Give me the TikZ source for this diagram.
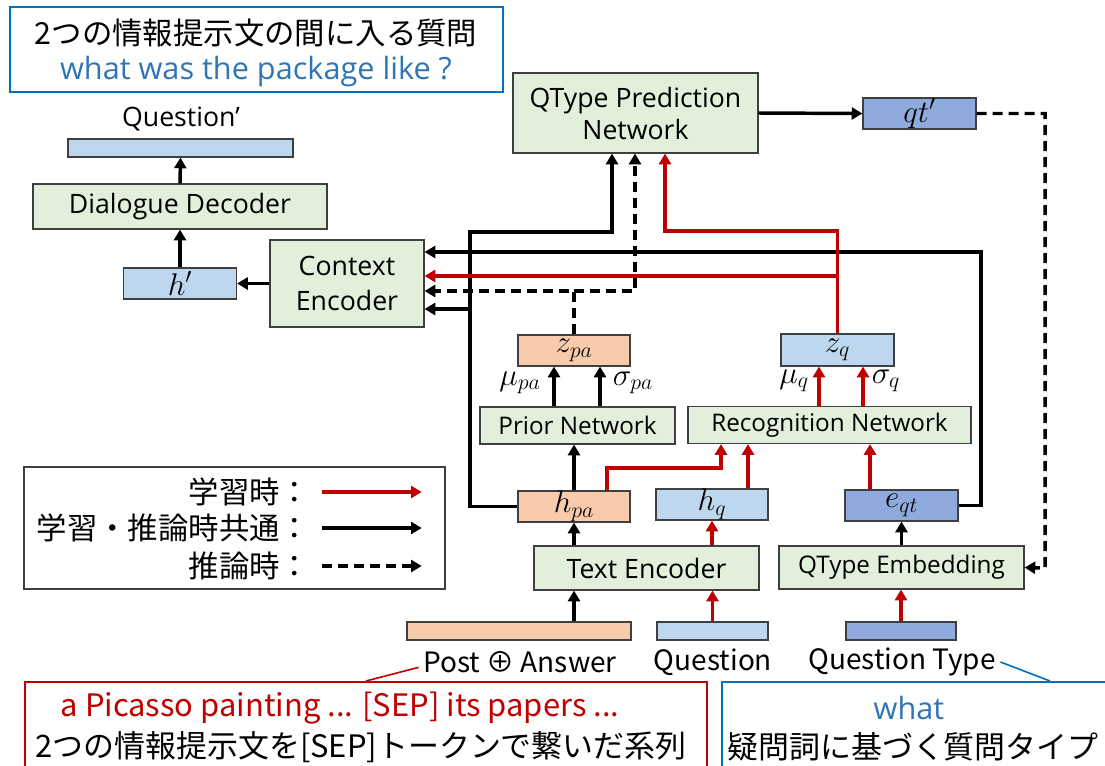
\documentclass[tikz,border=0pt]{standalone}
\usepackage{fix-cm}
\usepackage{fontspec}
\setmainfont{Open Sans}
\newfontfamily\jp{Noto Sans CJK JP}
\usetikzlibrary{arrows.meta}

\definecolor{netgreen}{HTML}{E2EFDA}
\definecolor{peach}{HTML}{F8CBAD}
\definecolor{lblue}{HTML}{BDD7EE}
\definecolor{mblue}{HTML}{8FAADC}
\definecolor{tred}{HTML}{C00000}
\definecolor{cblue}{HTML}{2E75B6}
\definecolor{cframe}{HTML}{0070C0}
\definecolor{edge}{HTML}{3F3F3F}

\newcommand{\bigfont}{\fontsize{20}{24}\selectfont}
\newcommand{\midfont}{\fontsize{18.2}{20}\selectfont}
\newcommand{\vecfont}{\fontsize{23.5}{24}\selectfont}
\newcommand{\jpfont}{\jp\fontsize{22.8}{29}\selectfont}
\newcommand{\lblfont}{\jp\fontsize{21}{24}\selectfont}

\begin{document}
\begin{tikzpicture}[x=0.75pt, y=-0.75pt,
  box/.style={draw=edge, line width=0.9pt, inner sep=0pt, align=center},
  net/.style={box, fill=netgreen},
  vec/.style={box, fill=#1, font=\vecfont},
  sz/.style 2 args={minimum width=#1*0.75pt, minimum height=#2*0.75pt},
  arr/.style={line width=2.6pt, -{Triangle[length=8pt,width=9pt]}},
  tarr/.style={arr, draw=tred},
  darr/.style={arr, dash pattern=on 7.5pt off 4.5pt},
  callout/.style={line width=1.5pt, inner sep=0pt}
]
\clip (0,0) rectangle (1105,765);

% Callout (top)
\node[callout, draw=cframe, sz={493}{85}] (topcall) at (256.5,49.5) {};
\node[font=\jpfont] (topjp) at (256,33) {2つの情報提示文の間に入る質問};
\node[font=\fontsize{23}{26}\selectfont, text=cblue] (topen) at (256,72) {what was the package like ?};

% Decoder side
\node[font=\bigfont] (qlbl) at (181,119) {Question’};
\node[vec=lblue, sz={225}{18}] (qout) at (180.5,148) {};
\node[net, sz={294}{45}, font=\bigfont] (decoder) at (180,206.5) {Dialogue Decoder};
\node[vec=lblue, sz={113}{31}] (hprime) at (180,283.5) {$h'$};
\node[net, sz={154}{87}, font=\bigfont] (ctxenc) at (347,283.5) {Context\\[2pt]Encoder};

% QType prediction
\node[net, sz={245}{80}, font=\bigfont] (qtpred) at (635.5,113) {QType Prediction\\Network};
\node[vec=mblue, sz={113}{31}] (qtp) at (919.5,113.5) {$qt'$};

% Latent variables
\node[vec=peach, sz={112}{31}] (zpa) at (574,350.5) {$z_{pa}$};
\node[vec=lblue, sz={113}{32}] (zq) at (837.5,350) {$z_q$};
\node[net, sz={195}{37}, font=\midfont] (prior) at (577.5,425.5) {Prior Network};
\node[net, sz={283}{37}, font=\midfont] (recog) at (829.5,425) {Recognition Network};
\node[font=\vecfont] (mupa) at (520,383) {$\mu_{pa}$};
\node[font=\vecfont] (sigpa) at (633,383) {$\sigma_{pa}$};
\node[font=\vecfont] (muq) at (794,381) {$\mu_q$};
\node[font=\vecfont] (sigq) at (886,381) {$\sigma_q$};

% Encoders
\node[vec=peach, sz={112}{31}] (hpa) at (574,506.5) {$h_{pa}$};
\node[vec=lblue, sz={112}{31}] (hq) at (712,504.5) {$h_q$};
\node[vec=mblue, sz={113}{31}] (eqt) at (901.5,505.5) {$e_{qt}$};
\node[net, sz={225}{44}, font=\bigfont] (textenc) at (646.5,568) {Text Encoder};
\node[net, sz={245}{43}, font=\midfont] (qtemb) at (901.5,567.5) {QType Embedding};

% Inputs
\node[vec=peach, sz={224}{18}] (pain) at (519,631) {};
\node[vec=lblue, sz={111}{18}] (qin) at (712.5,631) {};
\node[vec=mblue, sz={110}{18}] (qtin) at (901,631) {};
\node[font=\lblfont] (palbl) at (520,662) {Post ⊕ Answer};
\node[font=\lblfont] (qinlbl) at (713,662) {Question};
\node[font=\lblfont] (qtlbl) at (902,662) {Question Type};

% Vertical arrows
\draw[arr] (decoder.north) -- (qout.south);
\draw[arr] (hprime.north) -- (decoder.south);
\draw[arr] (ctxenc.west) -- (hprime.east);
\draw[arr] (qtpred.east) -- (qtp.west);
\draw[arr] (prior.north -| 554,0) -- (zpa.south -| 554,0);
\draw[arr] (prior.north -| 600,0) -- (zpa.south -| 600,0);
\draw[tarr] (recog.north -| 819,0) -- (zq.south -| 819,0);
\draw[tarr] (recog.north -| 863,0) -- (zq.south -| 863,0);
\draw[arr] (hpa.north) -- (prior.south -| hpa.north);
\draw[tarr] (hpa.north -| 607,0) |- (721,468) -- (recog.south -| 721,0);
\draw[tarr] (hq.north -| 748,0) -- (recog.south -| 748,0);
\draw[tarr] (eqt.north -| 870,0) -- (recog.south -| 870,0);
\draw[arr] (textenc.north -| hpa) -- (hpa.south);
\draw[tarr] (textenc.north -| hq) -- (hq.south);
\draw[arr] (qtemb.north -| eqt) -- (eqt.south);
\draw[arr] (pain.north -| hpa) -- (textenc.south -| hpa);
\draw[tarr] (qin.north) -- (textenc.south -| qin);
\draw[tarr] (qtin.north) -- (qtemb.south -| qtin);

% Long connectors
\draw[arr] (hpa.west) -| (470,232) -| (qtpred.south -| 612,0);
\draw[arr] (470,309) -- (ctxenc.east |- 0,309);
\draw[arr] (eqt.east) -| (981,252) -- (ctxenc.east |- 0,252);
\draw[darr] (zpa.north) |- (ctxenc.east |- 0,291);
\draw[darr] (zpa.north |- 0,291) -| (qtpred.south -| 635,0);
\draw[tarr] (zq.north) |- (665,231) -- (qtpred.south -| 665,0);
\draw[tarr] (zq.north |- 0,276) -- (ctxenc.east |- 0,276);
\draw[darr] (qtp.east) -| (1045,568) -- (qtemb.east);

% Legend
\node[draw=edge, line width=0.9pt, sz={421}{122}] (legend) at (234.5,528) {};
\node[font=\jpfont, anchor=east] (lg1) at (315,492) {学習時：};
\node[font=\jpfont, anchor=east] (lg2) at (315,528) {学習・推論時共通：};
\node[font=\jpfont, anchor=east] (lg3) at (315,566) {推論時：};
\draw[tarr] ([xshift=5pt]lg1.east) -- ++(100,0);
\draw[arr] ([xshift=5pt]lg2.east) -- ++(100,0);
\draw[darr] ([xshift=5pt]lg3.east) -- ++(100,0);

% Callouts (bottom)
\node[callout, draw=tred, sz={682}{110}] (rcall) at (366,737) {};
\node[font=\jp\fontsize{23.2}{26}\selectfont, text=tred] (rcen) at (340,708) {a Picasso painting ... [SEP] its papers ...};
\node[font=\jp\fontsize{23.2}{29}\selectfont] (rcjp) at (361,747) {2つの情報提示文を[SEP]トークンで繋いだ系列};
\draw[tred, line width=1.2pt] (rcall.north -| 366,0) -- ([yshift=-4pt]palbl.west);
\node[callout, draw=cframe, sz={400}{110}] (bcall) at (922,737) {};
\node[font=\fontsize{23}{26}\selectfont, text=cblue] (bcen) at (909,708) {what};
\node[font=\jp\fontsize{23.2}{29}\selectfont] (bcjp) at (913,747) {疑問詞に基づく質問タイプ};
\draw[cframe, line width=1.2pt] (qtlbl.east) -- (bcall.north -| 1050,0);

\end{tikzpicture}
\end{document}
